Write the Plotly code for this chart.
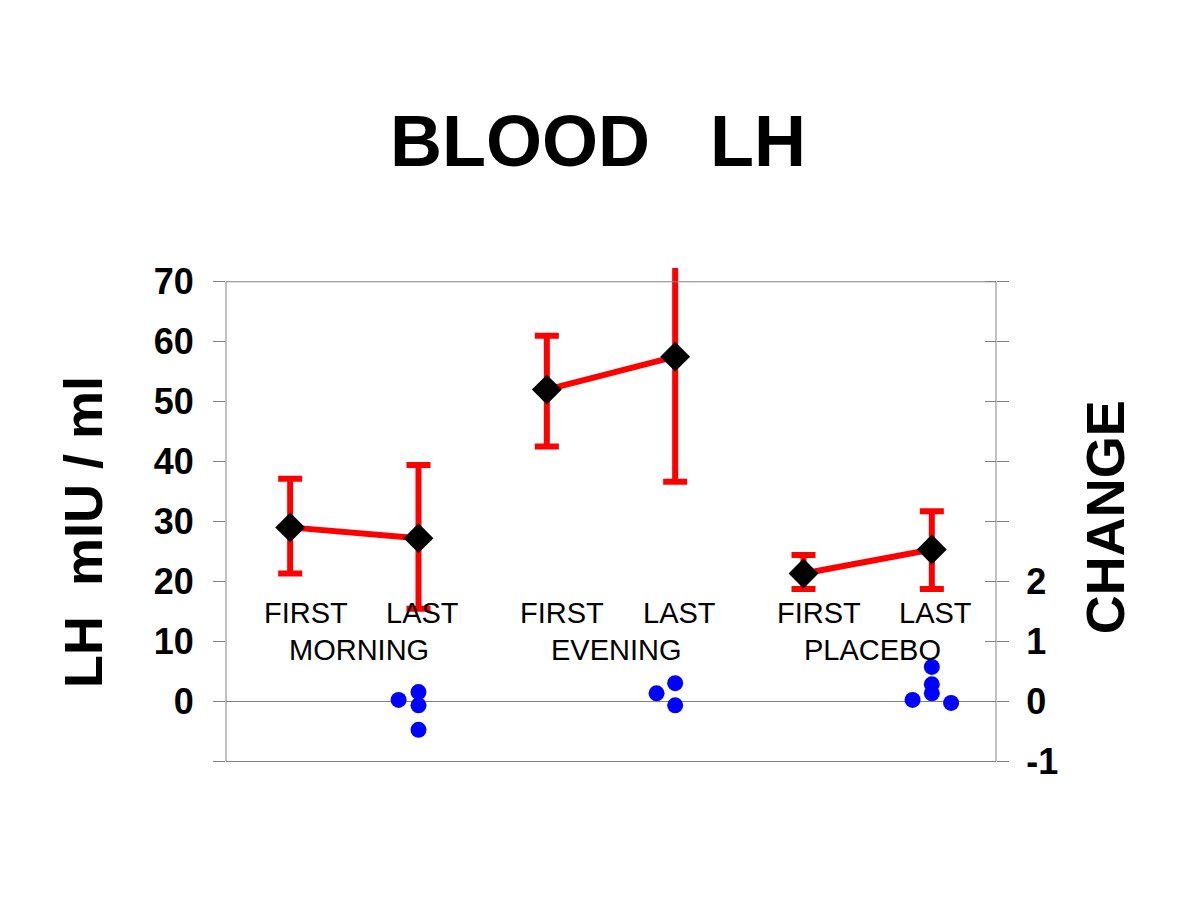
import plotly.graph_objects as go

# data
groups = ["MORNING", "EVENING", "PLACEBO"]
first_mean = [29.0, 52.0, 21.3]
first_hi = [37.1, 61.0, 24.4]
first_lo = [21.3, 42.5, 18.7]
last_mean = [27.2, 57.5, 25.3]
last_hi = [39.4, 75.0, 31.7]
last_lo = [15.4, 36.6, 18.7]

# change values (right axis)
morning_change = [0.02, 0.15, -0.07, -0.48]
evening_change = [0.13, 0.30, -0.07]
placebo_change = [0.02, 0.57, 0.28, 0.13, -0.03]

FONT = "Liberation Sans, Arial, sans-serif"
RED = "#ff0000"
GRAY = "#808080"

fig = go.Figure()

# mean +/- error, first/last joined per group
for i, g in enumerate(groups):
    xs = [2 * i, 2 * i + 1]
    ys = [first_mean[i], last_mean[i]]
    up = [first_hi[i] - first_mean[i], last_hi[i] - last_mean[i]]
    dn = [first_mean[i] - first_lo[i], last_mean[i] - last_lo[i]]
    fig.add_trace(go.Scatter(
        x=xs, y=ys, mode="lines+markers", name=g,
        line=dict(color=RED, width=6),
        marker=dict(symbol="diamond", size=23, color="black"),
        error_y=dict(type="data", symmetric=False, array=up, arrayminus=dn,
                     color=RED, thickness=6, width=12),
        cliponaxis=True, showlegend=False,
    ))

# individual changes, spread sideways around the LAST position
jitter = {
    "MORNING": [-0.155, 0, 0, 0],
    "EVENING": [-0.145, 0, 0],
    "PLACEBO": [-0.15, 0, 0, 0, 0.15],
}
for i, (g, vals) in enumerate(zip(groups, [morning_change, evening_change, placebo_change])):
    fig.add_trace(go.Scatter(
        x=[2 * i + 1 + d for d in jitter[g]], y=vals, yaxis="y2",
        mode="markers", marker=dict(size=16, color="#0000ff"),
        showlegend=False,
    ))
fig.add_trace(go.Scatter(x=[], y=[], yaxis="y3", showlegend=False))

left_ticks = list(range(-10, 80, 10))
right_ticks = list(range(-1, 8))

fig.update_layout(
    width=1200, height=900,
    paper_bgcolor="white", plot_bgcolor="white",
    margin=dict(l=218, r=212, t=260, b=147),
    font=dict(family=FONT, color="black"),
    title=dict(text="BLOOD\u00a0\u00a0\u00a0LH", x=0.4917, xanchor="center",
               y=1 - 133 / 900, yanchor="middle",
               font=dict(size=72, weight="bold", family=FONT)),
    xaxis=dict(range=[-0.5, 5.5], showticklabels=False, ticks="",
               showgrid=False, zeroline=False, showline=True,
               linecolor=GRAY, linewidth=1),
    yaxis=dict(range=[-10, 72.3], tickvals=left_ticks,
               ticktext=["" if v < 0 else str(v) for v in left_ticks],
               ticks="outside", ticklen=12, tickcolor=GRAY, tickwidth=1,
               ticklabelstandoff=12,
               tickfont=dict(size=36, weight="bold", family=FONT),
               showgrid=False, showline=False,
               zeroline=True, zerolinecolor=GRAY, zerolinewidth=1),
    yaxis2=dict(range=[-1, 7.23], overlaying="y", side="right",
                tickvals=right_ticks,
                ticktext=[str(v) if v <= 2 else "" for v in right_ticks],
                ticks="outside", ticklen=12, tickcolor=GRAY, tickwidth=1,
                ticklabelstandoff=10,
                tickfont=dict(size=36, weight="bold", family=FONT),
                showgrid=False, showline=False, zeroline=False),
    yaxis3=dict(range=[-1, 7.23], overlaying="y", side="right",
                tickvals=right_ticks, showticklabels=False,
                ticks="inside", ticklen=11, tickcolor=GRAY, tickwidth=1,
                showgrid=False, showline=False, zeroline=False),
)

# frame: top line at 70 and the two vertical axis lines
fig.add_shape(type="line", xref="paper", yref="y", x0=0, x1=1, y0=70, y1=70,
              line=dict(color=GRAY, width=1))
for xp in [0, 1]:
    fig.add_shape(type="line", xref="paper", yref="y", x0=xp, x1=xp, y0=-10, y1=70,
                  line=dict(color=GRAY, width=1))

# FIRST / LAST and group labels
for i, g in enumerate(groups):
    for txt, dx in [("FIRST", 0.12), ("LAST", 1.03)]:
        fig.add_annotation(x=2 * i + dx, y=14.7, text=txt, showarrow=False,
                           font=dict(size=29, family=FONT))
    fig.add_annotation(x=2 * i + 0.54, y=8.5, text=g, showarrow=False,
                       font=dict(size=29, family=FONT))

fig.add_annotation(x=-0.186, xref="paper", y=28.2, yref="y", xanchor="center",
                   text="LH\u00a0\u00a0mIU\u00a0/\u00a0ml", textangle=-90,
                   showarrow=False, font=dict(size=54, weight="bold", family=FONT))
fig.add_annotation(x=1.1416, xref="paper", y=30.7, yref="y", xanchor="center",
                   text="CHANGE", textangle=-90,
                   showarrow=False, font=dict(size=54, weight="bold", family=FONT))

fig.write_html("out.html")
